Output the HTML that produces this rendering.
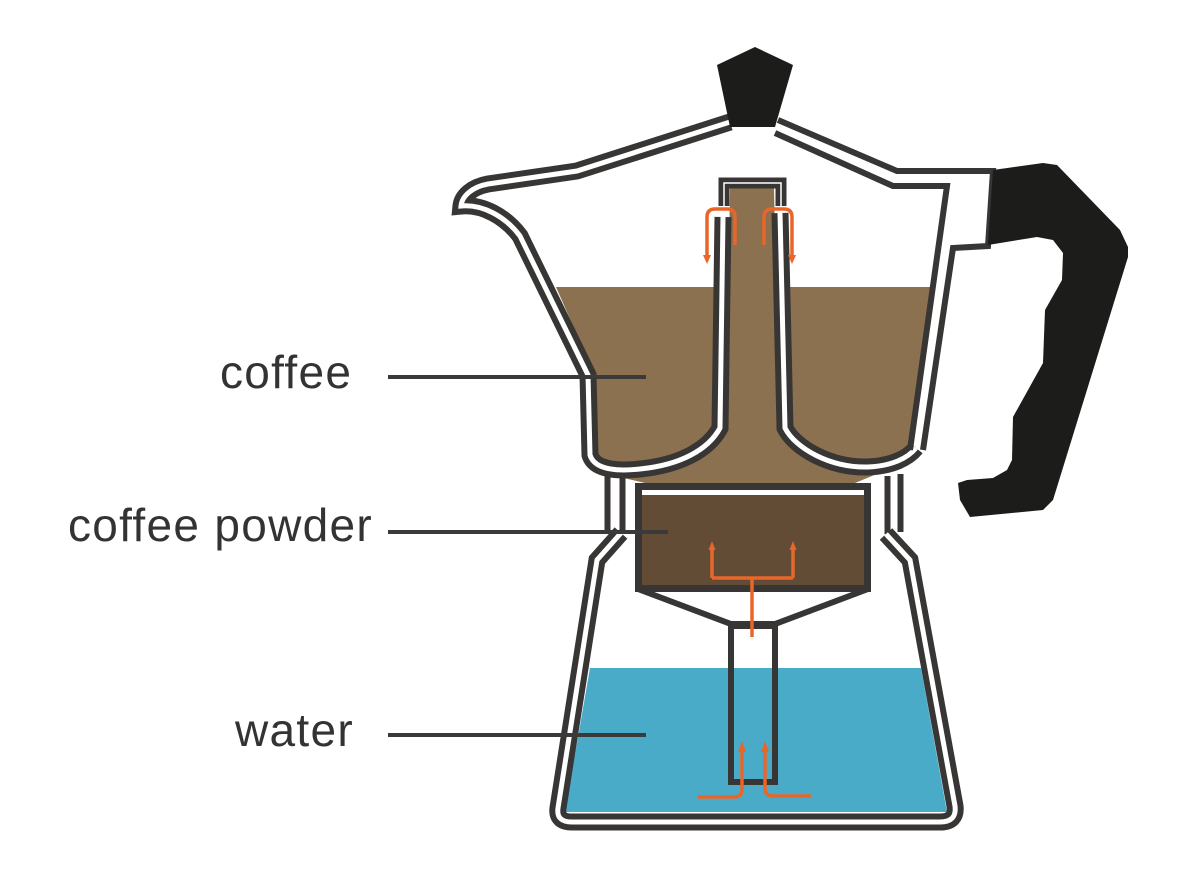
<!DOCTYPE html>
<html><head><meta charset="utf-8"><style>
html,body{margin:0;padding:0;background:#fff;}
svg{display:block;}
text{font-family:"Liberation Sans",sans-serif;font-size:46px;fill:#333;letter-spacing:1.3px;}
</style></head><body>
<svg width="1200" height="878" viewBox="0 0 1200 878" xmlns="http://www.w3.org/2000/svg">
<!-- water -->
<polygon points="590,668 921,668 947,812 565,812" fill="#4aabc8"/>
<!-- coffee -->
<polygon points="556,287 933,287 907,458 872,476 855,483 645,483 615,476 597,458 596,378" fill="#8b7150"/>
<polygon points="730,188 774,188 779,440 726,440" fill="#8b7150"/>
<!-- filter -->
<rect x="638.5" y="486.5" width="229" height="102" fill="#fff" stroke="#383634" stroke-width="7"/>
<rect x="642" y="495" width="222" height="90" fill="#634c35"/>
<polygon points="638,589 731,624 775,624 868,589" fill="#fff" stroke="#383634" stroke-width="6" stroke-linejoin="miter"/>
<rect x="731" y="626" width="44" height="156" fill="none" stroke="#383634" stroke-width="6"/>
<g fill="none" stroke-linejoin="miter">
<!-- left upper wall -->
<path d="M730,122 L577,171 L488,184 C472,187 462,196 461,206 C482,204 505,216 520,236 L588,375 L590,455 C594,468 612,472 640,469 C680,465 708,450 720,428 L723,217" stroke="#383634" stroke-width="17"/>
<path d="M730,122 L577,171 L488,184 C472,187 462,196 461,206 C482,204 505,216 520,236 L588,375 L590,455 C594,468 612,472 640,469 C680,465 708,450 720,428 L723,217" stroke="#fff" stroke-width="5"/>
<!-- right bowl -->
<path d="M780,213 L785,428 C795,448 830,468 868,467 C892,466 908,458 916,448" stroke="#383634" stroke-width="17"/>
<path d="M780,213 L785,428 C795,448 830,468 868,467 C892,466 908,458 916,448" stroke="#fff" stroke-width="5"/>
<!-- right walls -->
<polyline points="910,450 947,186 893,186 775,133" stroke="#383634" stroke-width="6"/>
<polyline points="923,450 953,248 988,246 993,171 897,171 778,120" stroke="#383634" stroke-width="6"/>
<!-- cap -->
<path d="M724,206 L724,183 L781,183 L781,206" stroke="#383634" stroke-width="11"/>
<path d="M724,206 L724,183 L781,183 L781,206" stroke="#fff" stroke-width="1.5"/>
<!-- posts -->
<path d="M607.5,474 V532 M622.5,476 V534 M887.5,476 V534 M900.5,474 V532" stroke="#383634" stroke-width="6"/>
<!-- lower body -->
<path d="M621,533 L597,560 L558,808 Q556,822 572,822 L940,822 Q957,822 955,806 L910,560 L886,534" stroke="#383634" stroke-width="17"/>
<path d="M621,533 L597,560 L558,808 Q556,822 572,822 L940,822 Q957,822 955,806 L910,560 L886,534" stroke="#fff" stroke-width="5"/>
</g>
<!-- arrows -->
<g fill="none" stroke="#e8662a" stroke-width="3.5">
<path d="M735,245 V217 Q735,209 727,209 H715 Q707,209 707,217 V256"/>
<path d="M764,245 V217 Q764,209 772,209 H784 Q792,209 792,217 V256"/>
<path d="M752,637 V578 M712,578 H793 M712,578 V549 M793,578 V549"/>
<path d="M698,797 H734 Q742,797 742,789 V750"/>
<path d="M811,796 H773 Q765,796 765,788 V750"/>
</g>
<g fill="#e8662a">
<polygon points="703,255 711,255 707,264"/>
<polygon points="788,255 796,255 792,264"/>
<polygon points="708.5,550 715.5,550 712,541"/>
<polygon points="789.5,550 796.5,550 793,541"/>
<polygon points="738,752 746,752 742,741"/>
<polygon points="761,752 769,752 765,741"/>
</g>
<!-- leader lines -->
<g stroke="#3a3a3a" stroke-width="4">
<line x1="388" y1="377" x2="646" y2="377"/>
<line x1="388" y1="532" x2="668" y2="532"/>
<line x1="388" y1="735" x2="646" y2="735"/>
</g>
<text x="220" y="388">coffee</text>
<text x="68" y="541">coffee powder</text>
<text x="235" y="746">water</text>
<!-- handle -->
<polygon fill="#1c1c1a" points="993,170 1043,163 1057,165 1120,230 1128,247 1128,257 1053,500 1043,510 970,517 960,500 958,483 967,480 993,478 1007,470 1012,460 1013,417 1043,363 1045,310 1062,280 1063,253 1053,240 1037,237 988,245"/>
<!-- knob -->
<polygon fill="#1c1c1a" points="755,47 793,65 775,127 730,127 717,65"/>
</svg>
</body></html>
